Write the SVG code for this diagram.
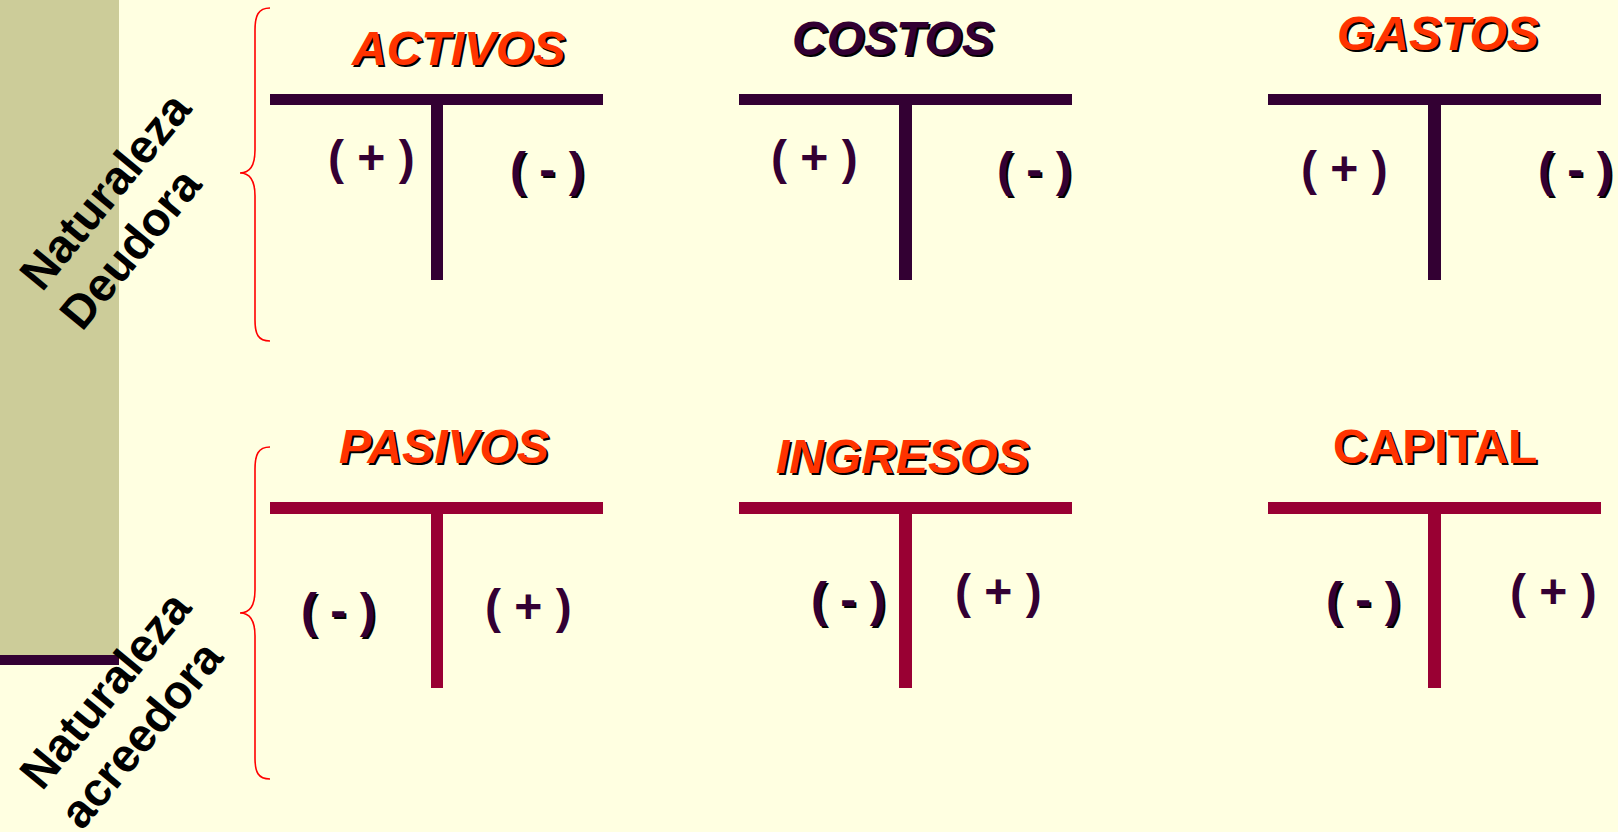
<svg xmlns="http://www.w3.org/2000/svg" width="1618" height="832" viewBox="0 0 1618 832">
<style>
.t{font-family:"Liberation Sans",Arial,sans-serif;font-weight:bold;font-size:48px}
.it{font-style:italic}
.red{fill:#FF3300}
.dk{fill:#330033}
.sh{fill:#000000}
.barD{fill:#330033}
.barC{fill:#990033}
.brace{fill:none;stroke:#FF0000;stroke-width:1.6}
.lbl{font-family:"Liberation Sans",Arial,sans-serif;font-weight:bold;font-size:47px;fill:#000}
</style>
<rect x="0" y="0" width="1618" height="832" fill="#FFFFE1"/>
<g id="sidebar">
<rect x="0" y="0" width="119" height="655" fill="#CCCC99"/>
<rect x="0" y="655" width="119" height="10" fill="#330033"/>
</g>
<g id="label-deudora" transform="translate(42,293) rotate(-50.5)">
<text class="lbl" x="0" y="0">Naturaleza</text>
<text class="lbl" x="-5" y="56">Deudora</text>
</g>
<g id="label-acreedora" transform="translate(42,792) rotate(-50.5)">
<text class="lbl" x="0" y="0">Naturaleza</text>
<text class="lbl" x="-5" y="56">acreedora</text>
</g>
<g id="connectors">
<path class="brace" d="M270,8 C258,8 255,16 255,30 L255,150 C255,166 250,173 240,173 C250,173 255,180 255,196 L255,320 C255,334 258,341 270,341"/>
<path class="brace" d="M270,447 C258,447 255,455 255,469 L255,590 C255,606 250,613 240,613 C250,613 255,620 255,636 L255,758 C255,772 258,779 270,779"/>
</g>
<g id="activos">
<text class="t it sh" x="354" y="67">ACTIVOS</text>
<text class="t it red" x="352" y="65">ACTIVOS</text>
<rect class="barD" x="270" y="94" width="333" height="11"/>
<rect class="barD" x="431" y="105" width="12" height="175"/>
<text class="t dk" x="328" y="174">( + )</text>
<text class="t sh" x="512" y="188">( - )</text>
<text class="t dk" x="510" y="186">( - )</text>
</g>
<g id="costos">
<text class="t it sh" x="794" y="57">COSTOS</text>
<text class="t it dk" x="792" y="55">COSTOS</text>
<rect class="barD" x="739" y="94" width="333" height="11"/>
<rect class="barD" x="899" y="105" width="13" height="175"/>
<text class="t dk" x="771" y="174">( + )</text>
<text class="t sh" x="999" y="188">( - )</text>
<text class="t dk" x="997" y="186">( - )</text>
</g>
<g id="gastos">
<text class="t it sh" x="1339" y="52">GASTOS</text>
<text class="t it red" x="1337" y="50">GASTOS</text>
<rect class="barD" x="1268" y="94" width="333" height="11"/>
<rect class="barD" x="1428" y="105" width="13" height="175"/>
<text class="t dk" x="1301" y="185">( + )</text>
<text class="t sh" x="1540" y="188">( - )</text>
<text class="t dk" x="1538" y="186">( - )</text>
</g>
<g id="pasivos">
<text class="t it sh" x="341" y="465">PASIVOS</text>
<text class="t it red" x="339" y="463">PASIVOS</text>
<rect class="barC" x="270" y="502" width="333" height="12"/>
<rect class="barC" x="431" y="514" width="12" height="174"/>
<text class="t sh" x="303" y="629">( - )</text>
<text class="t dk" x="301" y="627">( - )</text>
<text class="t dk" x="485" y="623">( + )</text>
</g>
<g id="ingresos">
<text class="t it sh" x="778" y="475">INGRESOS</text>
<text class="t it red" x="776" y="473">INGRESOS</text>
<rect class="barC" x="739" y="502" width="333" height="12"/>
<rect class="barC" x="899" y="514" width="13" height="174"/>
<text class="t sh" x="813" y="618">( - )</text>
<text class="t dk" x="811" y="616">( - )</text>
<text class="t dk" x="955" y="608">( + )</text>
</g>
<g id="capital">
<text class="t sh" x="1335" y="465">CAPITAL</text>
<text class="t red" x="1333" y="463">CAPITAL</text>
<rect class="barC" x="1268" y="502" width="333" height="12"/>
<rect class="barC" x="1428" y="514" width="13" height="174"/>
<text class="t sh" x="1328" y="618">( - )</text>
<text class="t dk" x="1326" y="616">( - )</text>
<text class="t dk" x="1510" y="608">( + )</text>
</g>
</svg>
